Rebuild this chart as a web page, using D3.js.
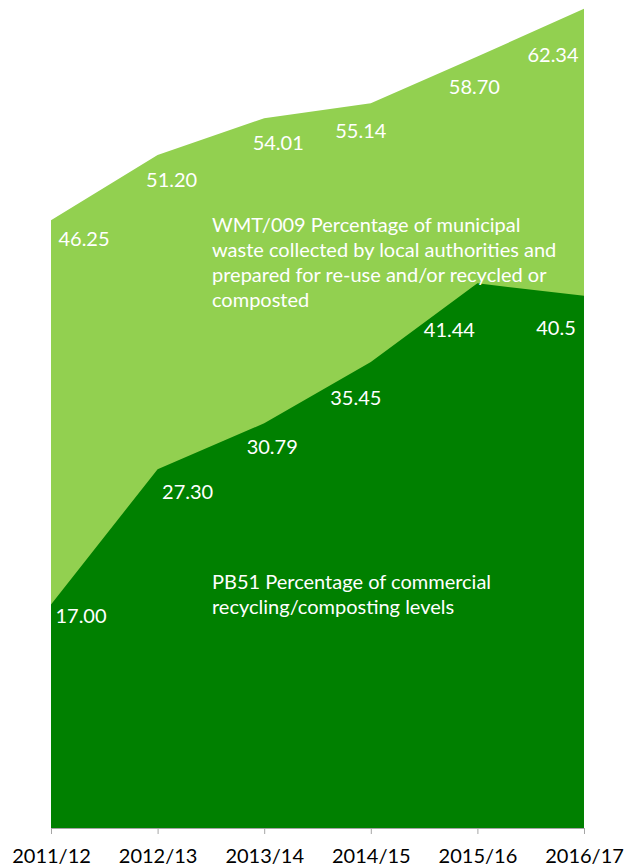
<!DOCTYPE html>
<html>
<head>
<meta charset="utf-8">
<script src="https://cdn.jsdelivr.net/npm/d3@7"></script>
<style>
  body { margin: 0; background: #fff; }
  text { font-family: Lato, "Open Sans", sans-serif; }
</style>
</head>
<body>
<svg id="chart"></svg>
<script>
// chart data
var years = ["2011/12", "2012/13", "2013/14", "2014/15", "2015/16", "2016/17"];
var wmtValues = [46.25, 51.20, 54.01, 55.14, 58.70, 62.34];
var pbValues = [17.00, 27.30, 30.79, 35.45, 41.44, 40.5];
var wmtLabels = ["46.25", "51.20", "54.01", "55.14", "58.70", "62.34"];
var pbLabels = ["17.00", "27.30", "30.79", "35.45", "41.44", "40.5"];
var wmtTitle = ["WMT/009 Percentage of municipal",
                "waste collected by local authorities and",
                "prepared for re-use and/or recycled or",
                "composted"];
var pbTitle = ["PB51 Percentage of commercial",
               "recycling/composting levels"];

// label nudges (px) from each point
var wmtNudge = [[33, 26], [14, 32], [14, 32], [-10, 35], [-3, 37], [-31, 53]];
var pbNudge = [[30, 18], [30, 30], [8, 31], [-15, 43], [-28, 54], [-28, 39]];

var W = 635, H = 867;
var svg = d3.select("#chart").attr("width", W).attr("height", H);

var x = d3.scalePoint().domain(years).range([51, 584]);
var y = d3.scaleLinear().domain([0, 63]).range([828, 0]);

var area = d3.area()
    .x(function(d, i) { return x(years[i]); })
    .y0(y(0))
    .y1(function(d) { return y(d); });

svg.append("path").datum(wmtValues)
    .attr("fill", "#92d050")
    .attr("d", area);

svg.append("path").datum(pbValues)
    .attr("fill", "#008000")
    .attr("d", area);

// axis
var ax = svg.append("g")
    .attr("transform", "translate(0," + y(0) + ")")
    .call(d3.axisBottom(x).tickSize(6).tickPadding(15).tickSizeOuter(0));
ax.select(".domain").attr("stroke", "#a6a6a6");
ax.selectAll(".tick line").attr("stroke", "#a6a6a6");
ax.selectAll(".tick text")
    .attr("fill", "#000")
    .style("font-size", "20px");

// data labels
function addLabels(vals, labels, nudge) {
  svg.append("g").selectAll("text")
    .data(vals)
    .enter().append("text")
    .attr("x", function(d, i) { return x(years[i]) + nudge[i][0]; })
    .attr("y", function(d, i) { return y(d) + nudge[i][1]; })
    .attr("text-anchor", "middle")
    .attr("fill", "#fff")
    .style("font-size", "20px")
    .text(function(d, i) { return labels[i]; });
}
addLabels(wmtValues, wmtLabels, wmtNudge);
addLabels(pbValues, pbLabels, pbNudge);

// series titles
function addTitle(lines, x0, y0) {
  svg.append("g").selectAll("text")
    .data(lines)
    .enter().append("text")
    .attr("x", x0)
    .attr("y", function(d, i) { return y0 + i * 25; })
    .attr("fill", "#fff")
    .style("font-size", "20px")
    .text(function(d) { return d; });
}
addTitle(wmtTitle, 212, 232);
addTitle(pbTitle, 212, 589);
</script>
</body>
</html>
